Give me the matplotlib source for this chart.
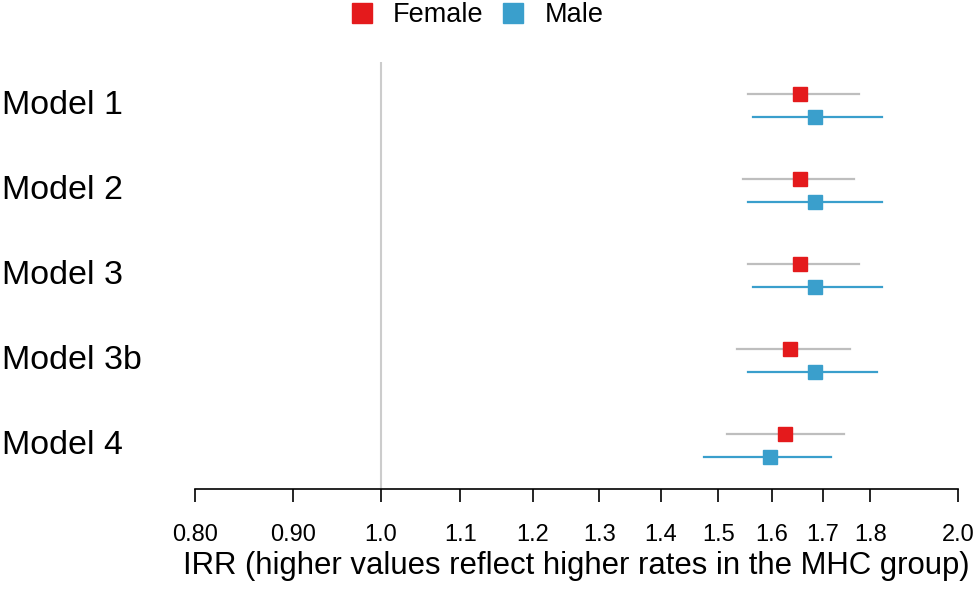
import matplotlib
matplotlib.use("Agg")
import matplotlib.pyplot as plt
from matplotlib.lines import Line2D
import numpy as np

plt.rcParams['font.family'] = ['Liberation Sans', 'DejaVu Sans']

models = ["Model 1", "Model 2", "Model 3", "Model 3b", "Model 4"]
female_est = [1.654, 1.654, 1.654, 1.634, 1.624]
female_lo = [1.554, 1.545, 1.554, 1.533, 1.515]
female_hi = [1.775, 1.765, 1.775, 1.756, 1.745]
male_est = [1.684, 1.684, 1.684, 1.684, 1.595]
male_lo = [1.563, 1.554, 1.563, 1.554, 1.474]
male_hi = [1.825, 1.825, 1.825, 1.814, 1.717]
tick_vals = [0.8, 0.9, 1.0, 1.1, 1.2, 1.3, 1.4, 1.5, 1.6, 1.7, 1.8, 2.0]
tick_labels = ["0.80", "0.90", "1.0", "1.1", "1.2", "1.3", "1.4", "1.5", "1.6", "1.7", "1.8", "2.0"]

RED = "#E41A1C"
BLUE = "#3A9FCC"
GRAY = "#BEBEBE"

fig = plt.figure(figsize=(9.74, 5.89), dpi=100)
W, H = 974, 589
left, right, top, bottom = 195, 958, 62, 489
ax = fig.add_axes([left / W, 1 - bottom / H, (right - left) / W, (bottom - top) / H])
ax.set_xscale('log')
ax.set_xlim(0.8, 2.0)
n = len(models)
ax.set_ylim(-0.512, n - 1 + 0.512)
off = 0.135

ax.axvline(1.0, color="#CCCCCC", lw=1.5, zorder=0)

for i, m in enumerate(models):
    y = n - 1 - i
    ax.plot([female_lo[i], female_hi[i]], [y + off, y + off], color=GRAY, lw=1.6, zorder=1)
    ax.plot([female_est[i]], [y + off], marker='s', ms=9.5, color=RED, zorder=3, linestyle='none')
    ax.plot([male_lo[i], male_hi[i]], [y - off, y - off], color=BLUE, lw=1.6, zorder=1)
    ax.plot([male_est[i]], [y - off], marker='s', ms=9.5, color=BLUE, zorder=3, linestyle='none')
    fig.text(2 / W, 1 - (105.5 + 85 * i) / H, m, ha='left', va='center', fontsize=24.5)

for s in ['top', 'right', 'left']:
    ax.spines[s].set_visible(False)
ax.spines['bottom'].set_linewidth(1.2)
ax.set_yticks([])
ax.set_xticks(tick_vals)
ax.set_xticklabels(tick_labels, fontsize=17)
ax.xaxis.set_minor_locator(matplotlib.ticker.NullLocator())
ax.tick_params(axis='x', direction='out', length=9, width=1.2, pad=16.5)
ax.set_xlabel("IRR (higher values reflect higher rates in the MHC group)", fontsize=22.4, labelpad=3.5)

handles = [Line2D([], [], marker='s', ms=15, color=RED, linestyle='none'),
           Line2D([], [], marker='s', ms=15, color=BLUE, linestyle='none')]
fig.legend(handles, ["Female", "Male"], loc='center', bbox_to_anchor=(477 / W, 1 - 15 / H),
           ncol=2, frameon=False, fontsize=19.5, handlelength=0.8, handletextpad=0.75,
           columnspacing=0.7, borderaxespad=0.0, borderpad=0.0)

fig.savefig("out.png", dpi=100)
